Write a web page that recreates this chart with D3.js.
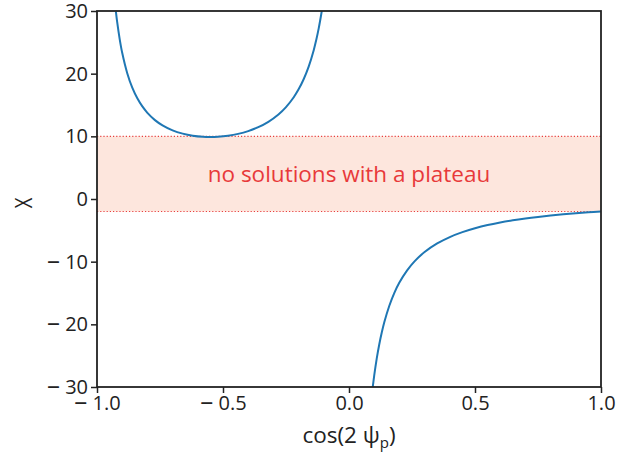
<!DOCTYPE html>
<html>
<head>
<meta charset="utf-8">
<script src="https://cdn.jsdelivr.net/npm/d3@7"></script>
<style>
  html, body { margin: 0; padding: 0; background: #fff; }
  svg { display: block; font-family: "Open Sans", "Noto Sans", sans-serif; }
</style>
</head>
<body>
<svg id="chart" width="632" height="459"></svg>
<script>
// cos(2 psi_p) values and the corresponding X, upper branch
const upperCos = [-0.925, -0.92, -0.91, -0.90, -0.88, -0.86, -0.84, -0.82, -0.80, -0.77, -0.74, -0.70,
  -0.66, -0.62, -0.58, -0.55, -0.52, -0.48, -0.44, -0.40, -0.36, -0.32, -0.28, -0.25, -0.22, -0.20,
  -0.18, -0.16, -0.14, -0.13, -0.12, -0.11, -0.108];
const upperX = [29.91, 28.26, 25.52, 23.33, 20.08, 17.77, 16.07, 14.77, 13.75, 12.59, 11.75, 10.95,
  10.43, 10.10, 9.93, 9.90, 9.94, 10.10, 10.39, 10.83, 11.46, 12.32, 13.49, 14.67, 16.20, 17.50,
  19.11, 21.13, 23.75, 25.38, 27.27, 29.52, 30.02];

// lower branch
const lowerCos = [0.094, 0.10, 0.11, 0.12, 0.13, 0.14, 0.16, 0.18, 0.20, 0.23, 0.26, 0.30, 0.35, 0.40,
  0.45, 0.50, 0.55, 0.60, 0.65, 0.70, 0.75, 0.80, 0.85, 0.90, 0.95, 1.00];
const lowerX = [-30.09, -28.18, -25.47, -23.21, -21.31, -19.67, -17.03, -14.97, -13.33, -11.42, -9.95,
  -8.46, -7.09, -6.07, -5.29, -4.67, -4.16, -3.75, -3.40, -3.11, -2.86, -2.64, -2.45, -2.28, -2.13, -2.00];

// band of X with no plateau solutions
const bandLimits = [-2, 10];
const bandLabel = "no solutions with a plateau";

const xTicks = [-1.0, -0.5, 0.0, 0.5, 1.0];
const yTicks = [-30, -20, -10, 0, 10, 20, 30];

const W = 632, H = 459;
const margin = { top: 11, right: 31, bottom: 72, left: 97 };
const tickFont = 20;

const svg = d3.select("#chart");
const x = d3.scaleLinear().domain([-1, 1]).range([margin.left, W - margin.right]);
const y = d3.scaleLinear().domain([-30, 30]).range([H - margin.bottom, margin.top]);

svg.append("defs").append("clipPath").attr("id", "plot-clip")
  .append("rect")
  .attr("x", x(-1)).attr("y", y(30))
  .attr("width", x(1) - x(-1)).attr("height", y(-30) - y(30));

const plot = svg.append("g").attr("clip-path", "url(#plot-clip)");

// shaded band
plot.append("rect")
  .attr("x", x(-1)).attr("width", x(1) - x(-1))
  .attr("y", y(bandLimits[1])).attr("height", y(bandLimits[0]) - y(bandLimits[1]))
  .attr("fill", "#fde6dd");

bandLimits.forEach(v => {
  plot.append("line")
    .attr("x1", x(-1)).attr("x2", x(1))
    .attr("y1", y(v)).attr("y2", y(v))
    .attr("stroke", "#e8403f").attr("stroke-width", 1.1)
    .attr("stroke-dasharray", "1.2,2");
});

plot.append("text")
  .attr("x", x(0)).attr("y", y(d3.mean(bandLimits)))
  .attr("text-anchor", "middle").attr("dominant-baseline", "central")
  .attr("fill", "#e8393a").attr("font-size", 22.5)
  .text(bandLabel);

const line = d3.line()
  .x(d => x(d[0])).y(d => y(d[1]))
  .curve(d3.curveCatmullRom);

[[upperCos, upperX], [lowerCos, lowerX]].forEach(([cs, xs]) => {
  plot.append("path")
    .datum(d3.zip(cs, xs))
    .attr("d", line)
    .attr("fill", "none")
    .attr("stroke", "#1f77b4")
    .attr("stroke-width", 2);
});

const xAxis = svg.append("g")
  .attr("transform", `translate(0,${y(-30)})`)
  .call(d3.axisBottom(x).tickValues(xTicks).tickSize(6).tickPadding(3));

const yAxis = svg.append("g")
  .attr("transform", `translate(${x(-1)},0)`)
  .call(d3.axisLeft(y).tickValues(yTicks).tickSize(6).tickPadding(3));

// tick labels with a long minus sign set apart from the digits
function styleTicks(g, digits) {
  g.select(".domain").remove();
  g.selectAll(".tick line").attr("stroke", "#222").attr("stroke-width", 1.5);
  g.selectAll(".tick text")
    .attr("fill", "#222").attr("font-size", tickFont)
    .attr("font-family", "\"Open Sans\", \"Noto Sans\", sans-serif")
    .each(function (d) {
      const t = d3.select(this).text("");
      if (d < 0) {
        t.append("tspan").attr("font-size", tickFont * 1.3).text("\u2013");
        t.append("tspan").text(" ");
      }
      t.append("tspan").text(Math.abs(d).toFixed(digits));
    });
}
styleTicks(xAxis, 1);
styleTicks(yAxis, 0);

// frame
svg.append("rect")
  .attr("x", x(-1)).attr("y", y(30))
  .attr("width", x(1) - x(-1)).attr("height", y(-30) - y(30))
  .attr("fill", "none").attr("stroke", "#222").attr("stroke-width", 1.8);

// axis titles
const xt = svg.append("text")
  .attr("x", x(0)).attr("y", 443)
  .attr("text-anchor", "middle").attr("fill", "#222").attr("font-size", 22.5);
xt.append("tspan").text("cos(2 \u03c8");
xt.append("tspan").attr("font-size", 15).attr("dy", 5).text("p");
xt.append("tspan").attr("dy", -5).text(")");

svg.append("text")
  .attr("transform", `translate(23,${y(0) + 4}) rotate(-90) scale(0.8,1)`)
  .attr("text-anchor", "middle").attr("dominant-baseline", "central")
  .attr("fill", "#222").attr("font-size", 23)
  .text("X");
</script>
</body>
</html>
